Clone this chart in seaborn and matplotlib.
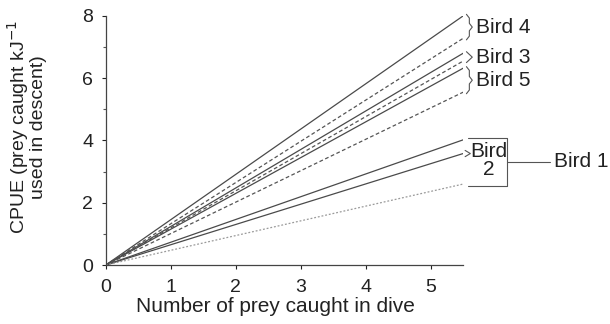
import matplotlib
matplotlib.use("Agg")
import matplotlib.pyplot as plt
import numpy as np
import pandas as pd
import seaborn as sns

# Data: CPUE rises linearly from 0 to these values at 5.5 prey
prey_range = [0, 5.5]
line_bird = ["Bird 4", "Bird 4", "Bird 3", "Bird 3", "Bird 5", "Bird 5", "Bird 1", "Bird 2", "Bird 1"]
line_kind = ["solid", "dashed", "solid", "dashed", "solid", "dashed", "solid", "solid", "dotted"]
cpue_end = [8.0, 7.28, 6.8, 6.55, 6.32, 5.55, 4.02, 3.58, 2.6]

x_ticks = [0, 1, 2, 3, 4, 5]
y_ticks = [0, 2, 4, 6, 8]

sns.set_theme(style="ticks")
plt.rcParams["font.family"] = ["Liberation Sans", "DejaVu Sans"]

rows = []
for i, (b, k, v) in enumerate(zip(line_bird, line_kind, cpue_end)):
    for x in prey_range:
        rows.append({"line": i, "bird": b, "kind": k, "prey": x, "cpue": v * x / prey_range[1]})
df = pd.DataFrame(rows)

styles = {"solid": ("-", "#4a4a4a", 0.9), "dashed": ((0, (3, 2)), "#555555", 0.9),
          "dotted": ((0, (1.5, 1.5)), "#9a9a9a", 0.9)}

fig = plt.figure(figsize=(6.1, 3.24), dpi=100)
ax = fig.add_axes([0.1733, 0.182, 0.586, 0.769])

for i in range(len(cpue_end)):
    sub = df[df["line"] == i]
    ls, col, lw = styles[line_kind[i]]
    sns.lineplot(data=sub, x="prey", y="cpue", ax=ax, color=col, linewidth=lw,
                 linestyle=ls, legend=False)

ax.set_xlim(0, 5.5)
ax.set_ylim(0, 8)
ax.set_xticks(x_ticks)
ax.set_yticks(y_ticks)
ax.set_yticks([1, 3, 5, 7], minor=True)
ax.tick_params(axis="both", labelsize=14, colors="#222222", length=3, width=0.8)
ax.tick_params(axis="x", pad=7)
ax.tick_params(axis="y", pad=6)
ax.tick_params(axis="y", which="minor", length=2, width=0.8, colors="#555555")
for s in ["top", "right"]:
    ax.spines[s].set_visible(False)
for s in ["left", "bottom"]:
    ax.spines[s].set_color("#444444")
    ax.spines[s].set_linewidth(0.9)

ax.set_xlabel("Number of prey caught in dive", fontsize=15, color="#222222")
ax.set_ylabel("CPUE (prey caught kJ$^{-1}$\nused in descent)", fontsize=14,
              color="#222222", linespacing=0.9)
ax.xaxis.set_label_coords(0.474, -0.128)
ax.yaxis.set_label_coords(-0.164, 0.554)

# braces next to line ends
def brace(ax, x, y0, y1, w=0.09):
    ym = (y0 + y1) / 2
    d = min(0.12, (y1 - y0) / 4)
    xs = [x, x + w / 2, x + w / 2, x + w, x + w / 2, x + w / 2, x]
    ys = [y1, y1 - d, ym + d, ym, ym - d, y0 + d, y0]
    ax.plot(xs, ys, color="#555555", lw=0.8, clip_on=False)
    return x + w

edge = prey_range[1] + 0.05
for name in ["Bird 4", "Bird 3", "Bird 5"]:
    vals = [v for b, v in zip(line_bird, cpue_end) if b == name]
    lo, hi = min(vals), max(vals)
    xr = brace(ax, edge, lo - 0.05, hi + 0.05)
    ax.text(xr + 0.05, (lo + hi) / 2, name, fontsize=15, color="#222222",
            va="center", ha="left", clip_on=False)

# square bracket grouping Bird 1 and Bird 2
grp = [v for b, v in zip(line_bird, cpue_end) if b in ("Bird 1", "Bird 2")]
top, bot = max(grp) + 0.05, min(grp) - 0.05
b2 = cpue_end[line_bird.index("Bird 2")]
brace(ax, edge - 0.02, b2 - 0.1, b2 + 0.1, w=0.08)
xr = 6.18
ax.plot([5.58, xr, xr, 5.58], [top, top, bot, bot], color="#555555", lw=0.8, clip_on=False)
mid = (top + bot) / 2
ax.plot([xr, xr + 0.65], [mid, mid], color="#555555", lw=0.8, clip_on=False)
ax.text(xr + 0.72, mid, "Bird 1", fontsize=15, color="#222222", va="center", ha="left",
        clip_on=False)
ax.text(5.9, (top + bot) / 2 + 0.05, "Bird\n2", fontsize=15, color="#222222", va="center",
        ha="center", linespacing=0.9, clip_on=False)

fig.savefig("out.png", dpi=100)
